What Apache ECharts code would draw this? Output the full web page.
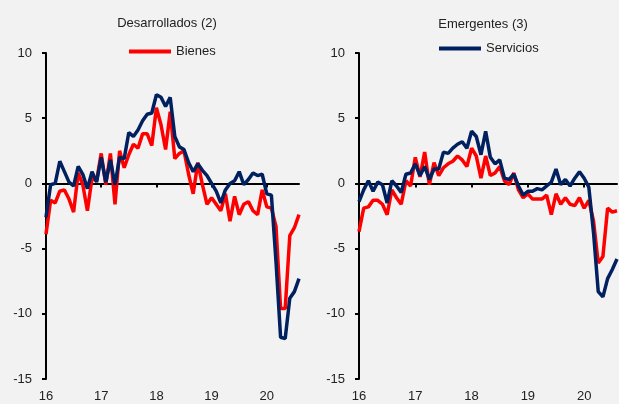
<!DOCTYPE html>
<html>
  <head>
    <meta charset="utf-8" />
    <title>Bienes y servicios</title>
    <style>
      html,
      body {
        margin: 0;
        padding: 0;
        background: #f2f2f2;
      }
      #chart-container {
        width: 619px;
        height: 404px;
      }
    </style>
    <script src="https://cdn.jsdelivr.net/npm/echarts@6/dist/echarts.min.js"></script>
  </head>
  <body>
    <div id="chart-container"></div>

    <script>
      // años del eje (ene-2016 a ago-2020, datos mensuales)
      var years = ["16", "17", "18", "19", "20"];
      var lastMonth = 8; // agosto 2020
      var months = [];
      years.forEach(function (y, k) {
        var n = k === years.length - 1 ? lastMonth : 12;
        for (var m = 1; m <= n; m++) {
          months.push(y + "-" + (m < 10 ? "0" + m : m));
        }
      });

      var yTicks = { min: -15, max: 10, interval: 5 };

      // Desarrollados (2)
      var desBienes = [
        -3.9, -1.3, -1.5, -0.6, -0.5, -1.2, -2.2, 0.8, -0.1, -2.1, 0.4, 0.2,
        2.3, -0.1, 2.3, -1.6, 2.5, 1.2, 2.2, 3.0, 2.7, 3.8, 3.8, 2.9,
        5.8, 4.5, 2.6, 5.5, 1.9, 2.3, 2.5, 0.7, -0.8, 1.6, -0.1, -1.6,
        -1.1, -1.6, -2.1, -0.8, -2.9, -1.0, -2.4, -1.6, -1.4, -2.1, -2.4, -0.5,
        -1.8, -1.9, -3.3, -9.6, -9.6, -4.0, -3.4, -2.4
      ];
      var desServicios = [
        -2.6, -0.1, 0.0, 1.7, 0.9, 0.1, -0.2, 1.3, 0.7, -0.4, 0.9, 0.1,
        2.0, 0.1, 1.8, -0.1, 2.0, 1.9, 3.9, 3.6, 4.1, 4.8, 5.3, 5.4,
        6.8, 6.6, 5.9, 6.6, 3.6, 2.8, 2.6, 1.6, 0.9, 1.5, 1.0, 0.6,
        0.0, -0.6, -1.5, -0.5, 0.0, 0.2, 0.9, -0.1, 0.3, 0.8, 0.6, 0.7,
        -0.8, -0.9, -6.0, -11.8, -11.9, -8.8, -8.3, -7.3
      ];

      // Emergentes (3)
      var emeBienes = [
        -3.7, -1.9, -1.8, -1.3, -1.3, -1.6, -2.4, -0.5, -1.1, -1.6, 0.2, -0.2,
        2.0, 0.5, 2.4, -0.1, 1.6, 0.6, 1.2, 1.5, 1.7, 2.1, 1.8, 1.3,
        2.7, 2.1, 0.4, 2.1, 0.6, 0.8, 1.3, 0.2, -0.1, 0.8, -0.5, -1.1,
        -0.8, -1.2, -1.2, -1.2, -0.9, -2.4, -0.8, -1.6, -1.1, -1.6, -1.7, -1.1,
        -1.9, -1.3, -2.9, -6.1, -5.6, -1.9, -2.2, -2.1
      ];
      var emeServicios = [
        -1.4, -0.5, 0.2, -0.6, 0.1, -0.1, -1.5, 0.2, -0.2, -0.7, 0.7, 0.8,
        1.5, 0.6, 1.3, 0.3, 1.1, 1.1, 2.4, 2.3, 2.7, 3.0, 3.2, 2.7,
        4.0, 3.6, 2.2, 4.0, 2.0, 1.5, 1.8, 0.4, 0.3, 0.7, -0.2, -0.9,
        -0.6, -0.6, -0.4, -0.5, -0.2, 0.1, 1.1, -0.1, 0.3, -0.2, 0.4, 0.9,
        0.4, -0.3, -3.8, -8.3, -8.7, -7.3, -6.6, -5.8
      ];

      var rojo = "#ff0000";
      var azul = "#002060";
      var fuente = "Liberation Sans";

      var myChart = echarts.init(document.getElementById("chart-container"), null, {
        renderer: "canvas",
      });

      function isYear(index) {
        return index % 12 === 0;
      }

      // eje x sobre el cero: solo línea y marcas anuales
      function zeroAxis(g) {
        return {
          type: "category",
          gridIndex: g,
          data: months,
          boundaryGap: false,
          axisLine: { onZero: true, lineStyle: { color: "#000", width: 2 } },
          axisTick: { interval: isYear, length: 4, lineStyle: { color: "#000", width: 2 } },
          axisLabel: { show: false },
          splitLine: { show: false },
        };
      }

      // eje x de abajo: solo etiquetas de año
      function labelAxis(g) {
        return {
          type: "category",
          gridIndex: g,
          position: "bottom",
          data: months,
          boundaryGap: false,
          axisLine: { show: false, onZero: false },
          axisTick: { show: false },
          axisLabel: {
            interval: isYear,
            margin: 11,
            color: "#222",
            fontFamily: fuente,
            fontSize: 13,
            formatter: function (v) {
              return v.slice(0, 2);
            },
          },
          splitLine: { show: false },
        };
      }

      function valueAxis(g) {
        return {
          type: "value",
          gridIndex: g,
          min: yTicks.min,
          max: yTicks.max,
          interval: yTicks.interval,
          axisLine: { show: true, lineStyle: { color: "#000", width: 2 } },
          axisTick: { show: true, length: 4, lineStyle: { color: "#000", width: 2 } },
          axisLabel: { margin: 14, color: "#222", fontFamily: fuente, fontSize: 13 },
          splitLine: { show: false },
        };
      }

      function linea(name, data, color, xi, yi) {
        return {
          name: name,
          type: "line",
          data: data,
          xAxisIndex: xi,
          yAxisIndex: yi,
          showSymbol: false,
          symbol: "none",
          lineStyle: { color: color, width: 3.5 },
          itemStyle: { color: color },
          emphasis: { disabled: true },
          animation: false,
        };
      }

      var option = {
        backgroundColor: "#f2f2f2",
        animation: false,
        textStyle: { fontFamily: fuente },
        title: [
          {
            text: "Desarrollados (2)",
            left: 162,
            top: 12,
            textAlign: "center",
            textStyle: { fontSize: 13, fontWeight: "normal", color: "#222", fontFamily: fuente },
          },
          {
            text: "Emergentes (3)",
            left: 478,
            top: 13,
            textAlign: "center",
            textStyle: { fontSize: 13, fontWeight: "normal", color: "#222", fontFamily: fuente },
          },
        ],
        legend: [
          {
            data: ["Bienes"],
            left: 124,
            top: 40,
            icon: "rect",
            itemWidth: 42,
            itemHeight: 4,
            textStyle: { fontSize: 13, color: "#222", fontFamily: fuente },
          },
          {
            data: ["Servicios"],
            left: 434,
            top: 37,
            icon: "rect",
            itemWidth: 42,
            itemHeight: 4,
            textStyle: { fontSize: 13, color: "#222", fontFamily: fuente },
          },
        ],
        grid: [
          { left: 46, top: 53, width: 253, height: 326 },
          { left: 359, top: 53, width: 258, height: 326 },
        ],
        xAxis: [zeroAxis(0), labelAxis(0), zeroAxis(1), labelAxis(1)],
        yAxis: [valueAxis(0), valueAxis(1)],
        series: [
          linea("Bienes", desBienes, rojo, 0, 0),
          linea("Servicios", desServicios, azul, 0, 0),
          linea("Bienes", emeBienes, rojo, 2, 1),
          linea("Servicios", emeServicios, azul, 2, 1),
        ],
      };

      myChart.setOption(option);
    </script>
  </body>
</html>
